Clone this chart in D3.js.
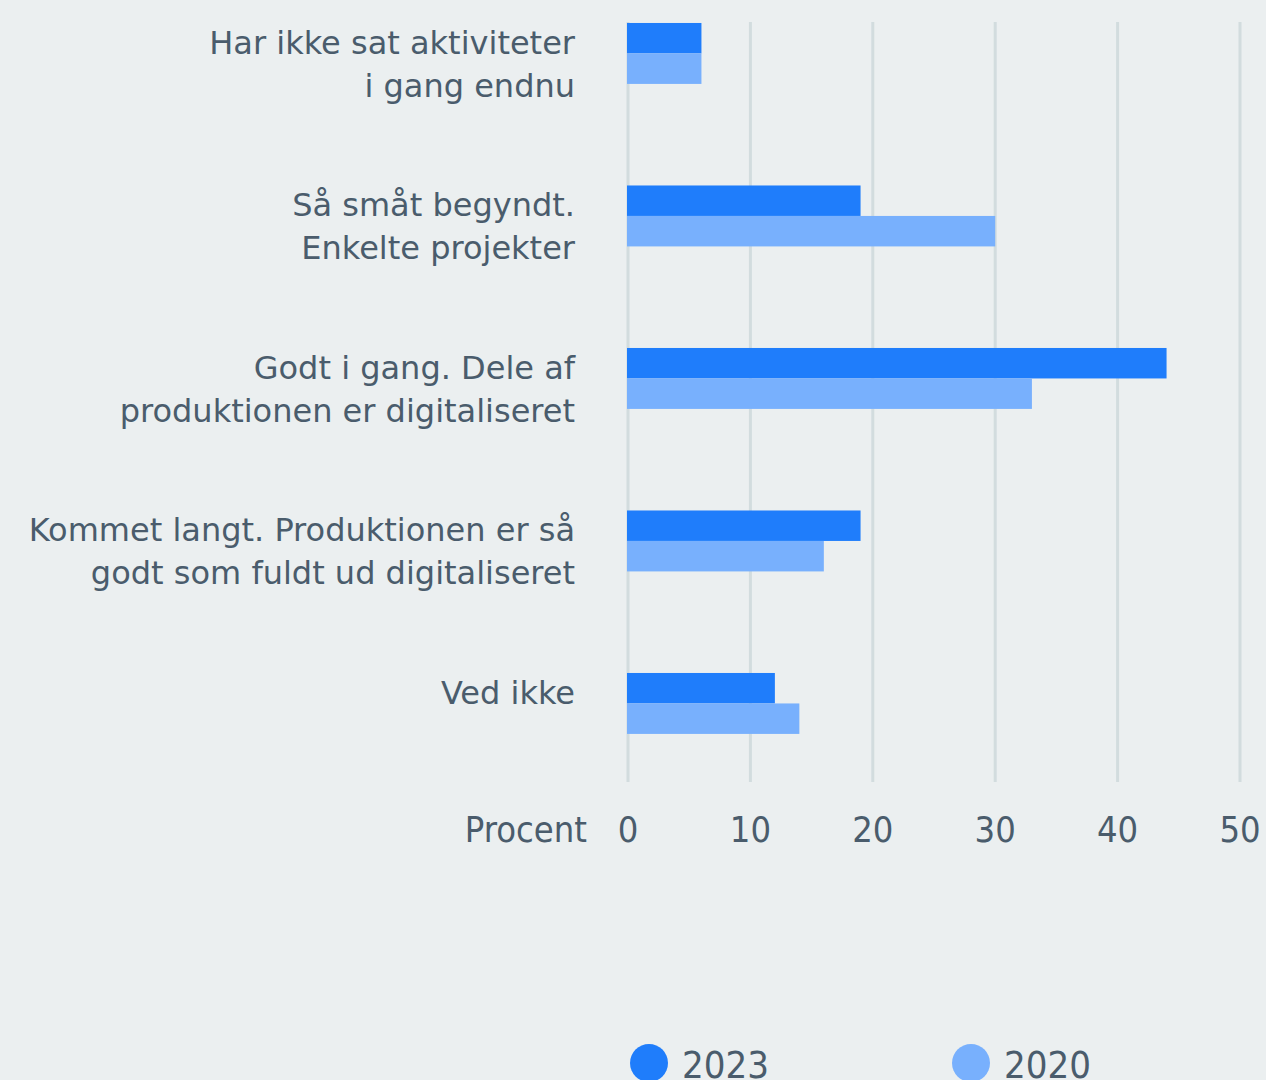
<!DOCTYPE html>
<html>
<head>
<meta charset="utf-8">
<script src="https://cdn.jsdelivr.net/npm/d3@7"></script>
<style>
  html, body { margin: 0; padding: 0; background: #ebeff0; }
  svg { display: block; }
  text { font-family: "DejaVu Sans Condensed", "Liberation Sans Narrow", sans-serif; fill: #4a5c6c; }
  .cat-label { font-family: "DejaVu Sans", sans-serif; }
</style>
</head>
<body>
<svg id="chart" width="1266" height="1080"></svg>
<script>
const categories = [
	["Har ikke sat aktiviteter", "i gang endnu"],
	["Så småt begyndt.", "Enkelte projekter"],
	["Godt i gang. Dele af", "produktionen er digitaliseret"],
	["Kommet langt. Produktionen er så", "godt som fuldt ud digitaliseret"],
	["Ved ikke"]
];
const series = ["2023", "2020"];
const values2023 = [6, 19, 44, 19, 12];
const values2020 = [6, 30, 33, 16, 14];
const ticks = [0, 10, 20, 30, 40, 50];
const axisTitle = "Procent";

const colors = {"2023": "#1f7dfb", "2020": "#78b0fd"};

const svg = d3.select("#chart");

const x = d3.scaleLinear()
	.domain([0, 50])
	.range([628, 1240]);

const y = d3.scaleBand()
	.domain(d3.range(categories.length))
	.range([-27.8, 784.7])
	.paddingInner(0.625)
	.paddingOuter(0.3125);

const ySub = d3.scaleBand()
	.domain(series)
	.range([0, y.bandwidth()]);

// grid lines
svg.append("g")
	.selectAll("line")
	.data(ticks)
	.join("line")
	.attr("x1", d => x(d))
	.attr("x2", d => x(d))
	.attr("y1", 22)
	.attr("y2", 782)
	.attr("stroke", "#d2dcde")
	.attr("stroke-width", 3);

// bars
const rows = categories.map((c, i) => ({i: i, "2023": values2023[i], "2020": values2020[i]}));

const groups = svg.append("g")
	.selectAll("g")
	.data(rows)
	.join("g")
	.attr("transform", d => "translate(0," + y(d.i) + ")");

groups.selectAll("rect")
	.data(d => series.map(s => ({key: s, value: d[s]})))
	.join("rect")
	.attr("x", x(0) - 1)
	.attr("y", d => ySub(d.key))
	.attr("width", d => x(d.value) - x(0) + 1)
	.attr("height", ySub.bandwidth())
	.attr("fill", d => colors[d.key]);

// category labels
const labels = svg.append("g")
	.selectAll("text")
	.data(categories)
	.join("text")
	.attr("class", "cat-label")
	.attr("text-anchor", "end")
	.attr("font-size", 32)
	.attr("x", 575)
	.attr("y", (d, i) => y(i) + y.bandwidth() / 2 - 11);

labels.selectAll("tspan")
	.data(d => d)
	.join("tspan")
	.attr("x", 575)
	.attr("dy", (d, j) => j === 0 ? "0.35em" : 43)
	.text(d => d);

// x axis labels
svg.append("g")
	.selectAll("text")
	.data(ticks)
	.join("text")
	.attr("x", d => x(d))
	.attr("y", 829)
	.attr("dy", "0.35em")
	.attr("text-anchor", "middle")
	.attr("font-size", 36)
	.text(d => d);

svg.append("text")
	.attr("x", 587)
	.attr("y", 829)
	.attr("dy", "0.35em")
	.attr("text-anchor", "end")
	.attr("font-size", 36)
	.text(axisTitle);

// legend
const legend = svg.append("g")
	.selectAll("g")
	.data(series)
	.join("g")
	.attr("transform", (d, i) => "translate(" + (649 + i * 322) + ",1063)");

legend.append("circle")
	.attr("r", 19)
	.attr("fill", d => colors[d]);

legend.append("text")
	.attr("x", 33)
	.attr("y", 15)
	.attr("font-size", 38)
	.text(d => d);
</script>
</body>
</html>
